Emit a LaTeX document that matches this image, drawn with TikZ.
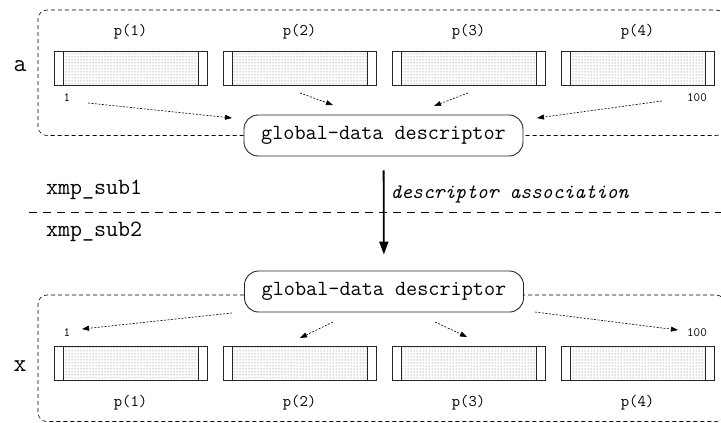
\documentclass[tikz,border=0pt]{standalone}
\usepackage{fontspec}
\usetikzlibrary{arrows.meta, patterns, calc, positioning}

\tikzset{
  cell/.style={draw=black!85, line width=1pt, minimum width=153pt, minimum height=34pt, inner sep=0pt,
    path picture={
      \fill[pattern=dots, pattern color=black!60] ($(path picture bounding box.north west)+(9pt,0pt)$) rectangle ($(path picture bounding box.south east)+(-9pt,0pt)$);
      \draw[line width=1pt] ($(path picture bounding box.north west)+(9pt,0pt)$) -- ($(path picture bounding box.south west)+(9pt,0pt)$);
      \draw[line width=1pt] ($(path picture bounding box.north east)+(-9pt,0pt)$) -- ($(path picture bounding box.south east)+(-9pt,0pt)$);
    }},
  desc/.style={draw=black!85, fill=white, rounded corners=14pt, line width=0.9pt, minimum width=279pt, minimum height=41pt, inner sep=0pt,
    font=\ttfamily\fontsize{21.6}{23}\selectfont},
  frame/.style={rounded corners=9pt, line width=0.6pt, dash pattern=on 4pt off 3pt},
  ptr/.style={line width=0.6pt, dash pattern=on 2pt off 1.5pt, -{Triangle[length=7pt,width=5pt]}},
  lbl/.style={font=\ttfamily\fontsize{16.2}{17}\selectfont, inner sep=0pt},
  idx/.style={font=\ttfamily\fontsize{12.7}{13}\selectfont, inner sep=0pt},
  arr/.style={font=\ttfamily\fontsize{25}{26}\selectfont, inner sep=0pt},
  sub/.style={font=\ttfamily\fontsize{23.3}{25}\selectfont, inner sep=0pt, anchor=west}
}

\begin{document}
\begin{tikzpicture}[x=1pt, y=-1pt]
  \useasboundingbox (0,0) rectangle (721,423);

  % xmp_sub1 side
  \foreach \k/\cx in {1/130.5, 2/299.5, 3/468.5, 4/637.5} {
    \node[cell] (a\k) at (\cx,68) {};
    \node[lbl] (pa\k) at (\cx,32) {p(\k)};
  }
  \node[arr] (na) at (20,66) {a};
  \node[idx] (la1) at (67,98) {1};
  \node[idx] (la100) at (697,98) {100};
  \node[desc] (gd1) at (383.5,135.5) {global-data descriptor};
  \draw[frame] (gd1.west) -| (38,10) -| (725,135.5) -- (gd1.east);

  \coordinate (sa1) at (88,103);  \coordinate (ea1) at (232,118);
  \coordinate (sa2) at (300,93);  \coordinate (ea2) at (333,105);
  \coordinate (sa3) at (468,93);  \coordinate (ea3) at (434,106);
  \coordinate (sa4) at (662,101); \coordinate (ea4) at (537,118);
  \foreach \k in {1,...,4}
    \draw[ptr] (sa\k) -- (ea\k);

  % separator
  \node[sub] (sub1) at (46,190) {xmp\_sub1};
  \node[sub] (sub2) at (46,232) {xmp\_sub2};
  \coordinate (sl) at (29,212);
  \coordinate (sr) at (721,212);
  \draw[line width=0.6pt, dash pattern=on 8pt off 6pt] (sl) -- (sr);

  % xmp_sub2 side
  \node[desc] (gd2) at (384,291.5) {global-data descriptor};
  \draw[line width=1.8pt, shorten <=14pt, shorten >=16pt, -{Triangle[length=13pt,width=9pt]}] (gd1) -- (gd2)
    node[pos=0.33, right=6pt, font=\ttfamily\itshape\fontsize{20.6}{22}\selectfont, inner sep=0pt] (assoc) {descriptor association};

  \foreach \k/\cx in {1/130.5, 2/299.5, 3/468.5, 4/637.5} {
    \node[cell] (x\k) at (\cx,363.5) {};
    \node[lbl] (px\k) at (\cx,403) {p(\k)};
  }
  \node[arr] (nx) at (20,366) {x};
  \node[idx] (lx1) at (67,333) {1};
  \node[idx] (lx100) at (697,333) {100};
  \draw[frame] (gd2.west |- 0,295) -| (38,421.5) -| (725,295) -- (gd2.east |- 0,295);

  \coordinate (sx1) at (232,313); \coordinate (ex1) at (82,329);
  \coordinate (sx2) at (333,322); \coordinate (ex2) at (300,338);
  \coordinate (sx3) at (435,322); \coordinate (ex3) at (467,337);
  \coordinate (sx4) at (535,312); \coordinate (ex4) at (678,330);
  \foreach \k in {1,...,4}
    \draw[ptr] (sx\k) -- (ex\k);
\end{tikzpicture}
\end{document}
